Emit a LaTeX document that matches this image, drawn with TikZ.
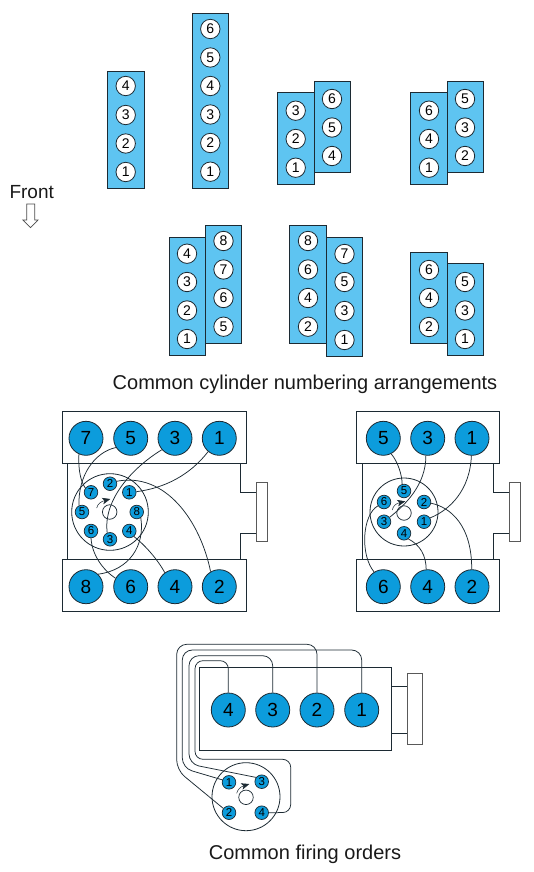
\documentclass[tikz,border=0pt]{standalone}
\usepackage{fontspec}
\setmainfont{Liberation Sans}
\usetikzlibrary{arrows.meta}
\definecolor{blockblue}{HTML}{5EC4F1}
\definecolor{cylblue}{HTML}{0C9CDC}
\definecolor{inkline}{HTML}{1C2A33}
\tikzset{
  blockbox/.style={draw=inkline,fill=blockblue,line width=.9pt},
  holecirc/.style={circle,draw=inkline,fill=white,line width=.8pt,minimum size=19.4pt,inner sep=0pt,font=\fontsize{14}{14}\selectfont},
  bigcyl/.style={circle,draw=inkline,fill=cylblue,line width=.8pt,minimum size=34pt,inner sep=0pt,font=\fontsize{19}{19}\selectfont},
  smallcyl/.style={circle,draw=inkline,fill=cylblue,line width=.7pt,minimum size=13.6pt,inner sep=0pt,font=\fontsize{11.5}{11.5}\selectfont},
  hub/.style={circle,draw=inkline,fill=white,line width=.7pt,minimum size=14.5pt,inner sep=0pt},
  distcap/.style={circle,draw=inkline,fill=white,line width=.8pt,inner sep=0pt},
  enginebox/.style={draw=inkline,fill=white,line width=.9pt},
  engineline/.style={draw=inkline,line width=.9pt},
  pulley/.style={draw=black!65,fill=white,line width=1pt},
  wire/.style={draw=inkline,line width=.75pt},
  rotor/.style={draw=inkline,line width=.5pt,-{Stealth[length=8pt,width=6.5pt,inset=2pt]}},
  caption/.style={font=\fontsize{20}{20}\selectfont,anchor=base,inner sep=0pt,text=black!90}
}
\begin{document}
\begin{tikzpicture}[x=1pt,y=-1pt]
\useasboundingbox (0,0) rectangle (534,872);
% --- cylinder numbering
\path[blockbox] (107.5,71) rectangle (144,188);
\path[blockbox] (192.3,13.7) rectangle (228.5,188.3);
\path[blockbox] (277.7,92.7) rectangle (314,184);
\path[blockbox] (314,81) rectangle (350.3,172);
\path[blockbox] (410.7,92.7) rectangle (447,184);
\path[blockbox] (447,81) rectangle (483.5,172);
\path[blockbox] (169,237.3) rectangle (205.3,355);
\path[blockbox] (205.3,225.3) rectangle (241.7,343.3);
\path[blockbox] (289.7,225.3) rectangle (326.3,343.3);
\path[blockbox] (326.3,237.7) rectangle (362.7,356);
\path[blockbox] (410.7,252.3) rectangle (447,343.3);
\path[blockbox] (447,263.7) rectangle (483.3,355.3);
\foreach \n/\yy in {4/86,3/115,2/143.5,1/172} \node[holecirc] (pa\n) at (125.7,\yy) {\n};
\foreach \n/\yy in {6/29,5/57.5,4/86,3/114.5,2/143,1/171.7} \node[holecirc] (pb\n) at (210.3,\yy) {\n};
\foreach \n/\yy in {3/110.7,2/139,1/167.7} \node[holecirc] (pc\n) at (295.7,\yy) {\n};
\foreach \n/\yy in {6/99,5/127.5,4/156} \node[holecirc] (pc\n) at (332,\yy) {\n};
\foreach \n/\yy in {6/110.7,4/139,1/167.7} \node[holecirc] (pd\n) at (429,\yy) {\n};
\foreach \n/\yy in {5/99,3/127.5,2/156} \node[holecirc] (pd\n) at (465,\yy) {\n};
\foreach \n/\yy in {4/253.7,3/282,2/310.5,1/339} \node[holecirc] (pe\n) at (187,\yy) {\n};
\foreach \n/\yy in {8/241,7/269.5,6/298,5/326.7} \node[holecirc] (pe\n) at (223.5,\yy) {\n};
\foreach \n/\yy in {8/241,6/269.5,4/298,2/326.7} \node[holecirc] (pf\n) at (308,\yy) {\n};
\foreach \n/\yy in {7/254,5/282,3/311,1/340} \node[holecirc] (pf\n) at (344.5,\yy) {\n};
\foreach \n/\yy in {6/270,4/298,2/327} \node[holecirc] (pg\n) at (429,\yy) {\n};
\foreach \n/\yy in {5/282,3/310.5,1/339} \node[holecirc] (pg\n) at (465,\yy) {\n};
\node[caption] (fronttext) at (31.7,198) {\fontsize{19}{19}\selectfont Front};
\draw[draw=black!70,fill=white,line width=.7pt] (26.7,204) -- (34.7,204) -- (34.7,220) -- (38,220) -- (30.5,227.7) -- (22.8,220) -- (26.7,220) -- cycle;
\node[caption] (capa) at (305,389) {Common cylinder numbering arrangements};
% --- V8
\path[engineline] (67.7,463.7) -- (67.7,559.3);
\path[engineline] (240.3,463.7) -- (240.3,492.7) -- (256.7,492.7);
\path[engineline] (256.7,533.3) -- (240.3,533.3) -- (240.3,559.3);
\path[pulley] (256.7,482.7) rectangle (267.3,541.7);
\path[enginebox] (62,411.7) rectangle (246.7,463.7);
\path[enginebox] (62,559.3) rectangle (246.7,611);
\node[distcap,minimum size=76.6pt] (adist) at (110,512) {};
\node[hub] (ahub) at (109.7,512) {};
\foreach \n/\xx in {7/86,5/130.7,3/175,1/219.3} \node[bigcyl] (at\n) at (\xx,438.3) {\n};
\foreach \n/\xx in {8/86,6/130.7,4/175,2/219.3} \node[bigcyl] (ab\n) at (\xx,586.7) {\n};
\foreach \n/\xx/\yy in {7/91/492.3,2/110/483.7,1/129.3/492.3,8/136.7/512,4/129.3/531,3/110/539.3,6/91/531,5/82/512} \node[smallcyl] (as\n) at (\xx,\yy) {\n};
\path[wire] (at7.246) .. controls (78,470) and (81,482) .. (as7.143);
\path[wire] (at5.212) .. controls (95,452) and (78,475) .. (as5.115);
\path[wire] (at3.221) .. controls (132,468) and (103,500) .. (as3.113);
\path[wire] (at1.230) .. controls (190,475) and (165,488) .. (as1.5);
\path[wire] (as2.20) .. controls (165,472) and (200,520) .. (ab2.120);
\path[wire] (as8.-55) .. controls (145,545) and (130,570) .. (ab8.46);
\path[wire] (as6.270) .. controls (92,555) and (103,570) .. (ab6.151);
\path[wire] (as4.-50) .. controls (145,545) and (158,560) .. (ab4.126);
\coordinate (arot) at (96.7,508);
\coordinate (arottip) at (110.3,499);
\path[rotor] (arot) .. controls (97.5,504) and (101,501.5) .. (arottip);
% --- V6
\path[engineline] (362.3,463.7) -- (362.3,559.3);
\path[engineline] (493.3,463.7) -- (493.3,492.7) -- (509,492.7);
\path[engineline] (509,533.3) -- (493.3,533.3) -- (493.3,559.3);
\path[pulley] (509,482.7) rectangle (520,541.7);
\path[enginebox] (356.7,411.7) rectangle (499,463.7);
\path[enginebox] (356.7,559.3) rectangle (499,611);
\node[distcap,minimum size=68pt] (bdist) at (404,512) {};
\node[hub] (bhub) at (404,513) {};
\foreach \n/\xx in {5/383.3,3/427.7,1/472} \node[bigcyl] (bt\n) at (\xx,438.3) {\n};
\foreach \n/\xx in {6/383.3,4/427.7,2/472} \node[bigcyl] (bb\n) at (\xx,586.7) {\n};
\foreach \n/\xx/\yy in {5/404/491,6/384/502,2/424/502,3/384/521.7,1/424/521.7,4/404/533.3} \node[smallcyl] (bs\n) at (\xx,\yy) {\n};
\path[wire] (bt5.-63) .. controls (398,462) and (402,475) .. (bs5.105);
\path[wire] (bt3.264) .. controls (426,485) and (405,505) .. (bs3.38);
\path[wire] (bt1.268) .. controls (470,490) and (450,510) .. (bs1.32);
\path[wire] (bs2.-10) .. controls (450,507) and (472,525) .. (bb2.91);
\path[wire] (bs4.-52) .. controls (420,545) and (426,555) .. (bb4.95);
\path[wire] (bs6.212) .. controls (362,515) and (360,555) .. (bb6.122);
\coordinate (brot) at (392.3,510);
\coordinate (brottip) at (405.3,501.3);
\path[rotor] (brot) .. controls (393,506) and (396,503.5) .. (brottip);
% --- I4
\path[engineline] (391.7,686.7) -- (407.3,686.7);
\path[engineline] (391.7,733.3) -- (407.3,733.3);
\path[pulley] (407.3,673.3) rectangle (422.7,744.3);
\path[enginebox] (199.7,667.7) rectangle (391.7,750.3);
\node[distcap,minimum size=68pt] (cdist) at (246,796.7) {};
\node[hub] (chub) at (246,797.3) {};
\foreach \n/\xx in {4/228.3,3/272.7,2/317,1/361.7} \node[bigcyl] (ct\n) at (\xx,710) {\n};
\foreach \n/\xx/\yy in {1/229/782.3,3/261.7/781.7,2/229/812.7,4/261.7/812.7} \node[smallcyl] (cs\n) at (\xx,\yy) {\n};
\path[wire,rounded corners=8pt] (ct4.north) -- (228.3,660.7) -- (195,660.7) -- (195,759.3) -- (290.7,759.3) -- (290.7,812.5) -- (cs4.east);
\path[wire,rounded corners=10pt] (ct3.north) -- (272.7,655.7) -- (189,655.7) -- (189,764) -- (cs3.143);
\path[wire,rounded corners=10pt] (ct2.north) -- (317,644.3) -- (176.7,644.3) -- (176.7,770) -- (cs2.143);
\path[wire,rounded corners=10pt] (ct1.north) -- (361.7,650) -- (182.3,650) -- (182.3,768) -- (cs1.160);
\coordinate (crot) at (236.7,793.3);
\coordinate (crottip) at (249.3,784);
\path[rotor] (crot) .. controls (237.5,789.5) and (240.5,786.8) .. (crottip);
\node[caption] (capb) at (305,859) {Common firing orders};
\end{tikzpicture}
\end{document}
